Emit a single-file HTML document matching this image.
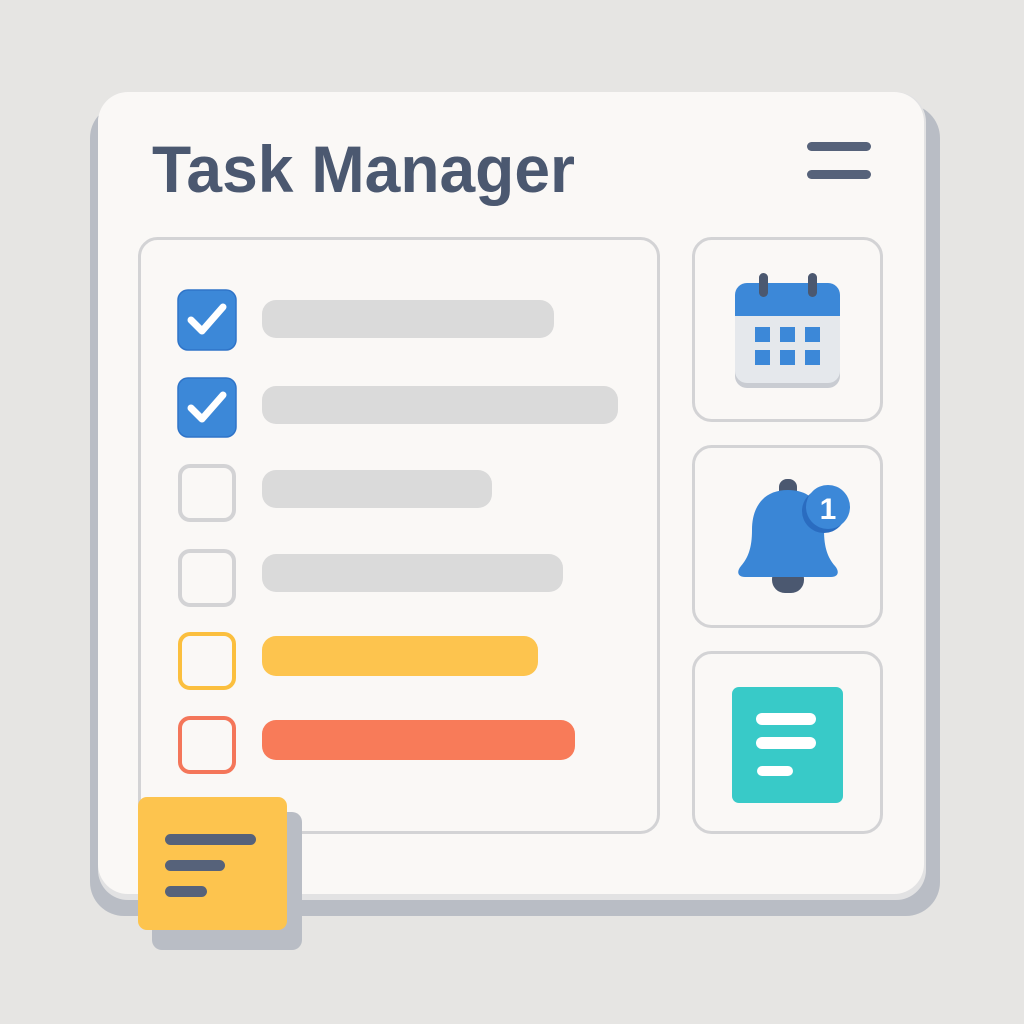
<!DOCTYPE html>
<html><head><meta charset="utf-8"><style>html,body{margin:0;padding:0;background:#e6e5e3}svg{display:block}</style></head>
<body>
<svg width="1024" height="1024" viewBox="0 0 1024 1024" xmlns="http://www.w3.org/2000/svg">
<rect width="1024" height="1024" fill="#e6e5e3"/>
<rect x="90" y="104" width="850" height="812" rx="34" fill="#b9bdc5"/>
<rect x="98" y="92" width="828" height="808" rx="30" fill="#e2e2e3"/>
<rect x="98" y="92" width="826" height="802" rx="30" fill="#faf8f6"/>
<text x="152" y="192" font-family="Liberation Sans, sans-serif" font-weight="bold" font-size="66" fill="#4b5870" textLength="423" lengthAdjust="spacingAndGlyphs">Task Manager</text>
<rect x="807" y="142" width="64" height="9" rx="4.5" fill="#56627a"/>
<rect x="807" y="170" width="64" height="9" rx="4.5" fill="#56627a"/>
<rect x="139.5" y="238.5" width="519" height="594" rx="18" fill="#faf8f6" stroke="#d3d3d5" stroke-width="3"/>
<rect x="178" y="290" width="58" height="60" rx="10" fill="#3c88d8" stroke="#2f74c8" stroke-width="1.5"/>
<path d="M191 320 L202 331 L223 307" fill="none" stroke="#fff" stroke-width="7" stroke-linecap="round" stroke-linejoin="round"/>
<rect x="262" y="300" width="292" height="38" rx="14" fill="#dadada"/>
<rect x="178" y="378" width="58" height="59" rx="10" fill="#3c88d8" stroke="#2f74c8" stroke-width="1.5"/>
<path d="M191 408 L202 419 L223 395" fill="none" stroke="#fff" stroke-width="7" stroke-linecap="round" stroke-linejoin="round"/>
<rect x="262" y="386" width="356" height="38" rx="14" fill="#dadada"/>
<rect x="180" y="466" width="54" height="54" rx="10" fill="none" stroke="#d3d3d5" stroke-width="4"/>
<rect x="262" y="470" width="230" height="38" rx="14" fill="#dadada"/>
<rect x="180" y="551" width="54" height="54" rx="10" fill="none" stroke="#d3d3d5" stroke-width="4"/>
<rect x="262" y="554" width="301" height="38" rx="14" fill="#dadada"/>
<rect x="180" y="634" width="54" height="54" rx="10" fill="none" stroke="#fbbf3e" stroke-width="4"/>
<rect x="262" y="636" width="276" height="40" rx="14" fill="#fdc44e"/>
<rect x="180" y="718" width="54" height="54" rx="10" fill="none" stroke="#f4765a" stroke-width="4"/>
<rect x="262" y="720" width="313" height="40" rx="14" fill="#f87b59"/>
<rect x="693.5" y="238.5" width="188" height="182" rx="18" fill="#faf8f6" stroke="#d3d3d5" stroke-width="3"/>
<rect x="693.5" y="446.5" width="188" height="180" rx="18" fill="#faf8f6" stroke="#d3d3d5" stroke-width="3"/>
<rect x="693.5" y="652.5" width="188" height="180" rx="18" fill="#faf8f6" stroke="#d3d3d5" stroke-width="3"/>
<rect x="735" y="288" width="105" height="100" rx="12" fill="#c9ccd2"/>
<rect x="735" y="283" width="105" height="100" rx="12" fill="#e5e8ec"/>
<path d="M747 283 H828 A12 12 0 0 1 840 295 V316 H735 V295 A12 12 0 0 1 747 283 Z" fill="#3c88d8"/>
<rect x="759" y="273" width="9" height="24" rx="4.5" fill="#4b5870"/>
<rect x="808" y="273" width="9" height="24" rx="4.5" fill="#4b5870"/>
<g fill="#3c88d8">
<rect x="755" y="327" width="15" height="15"/><rect x="780" y="327" width="15" height="15"/><rect x="805" y="327" width="15" height="15"/>
<rect x="755" y="350" width="15" height="15"/><rect x="780" y="350" width="15" height="15"/><rect x="805" y="350" width="15" height="15"/>
</g>
<rect x="779" y="479" width="18" height="20" rx="8" fill="#4b5870"/>
<rect x="772" y="566" width="32" height="27" rx="13" fill="#4b5870"/>
<path d="M788 490 C765 490 752 505 752 530 C752 548 748 558 741 566 C736 572 738 577 745 577 L831 577 C838 577 840 572 835 566 C828 558 824 548 824 530 C824 505 811 490 788 490 Z" fill="#3a86d6"/>
<circle cx="824" cy="511" r="22" fill="#2a6cc0"/>
<circle cx="828" cy="507" r="22" fill="#3c88d8"/>
<text x="828" y="519" text-anchor="middle" font-family="Liberation Sans, sans-serif" font-weight="bold" font-size="30" fill="#fff">1</text>
<rect x="732" y="687" width="111" height="116" rx="7" fill="#38cac8"/>
<rect x="756" y="713" width="60" height="12" rx="6" fill="#fff"/>
<rect x="756" y="737" width="60" height="12" rx="6" fill="#fff"/>
<rect x="757" y="766" width="36" height="10" rx="5" fill="#fff"/>
<rect x="152" y="812" width="150" height="138" rx="10" fill="#b9bdc5"/>
<rect x="138" y="797" width="149" height="133" rx="9" fill="#fdc44e"/>
<rect x="165" y="834" width="91" height="11" rx="5.5" fill="#56627a"/>
<rect x="165" y="860" width="60" height="11" rx="5.5" fill="#56627a"/>
<rect x="165" y="886" width="42" height="11" rx="5.5" fill="#56627a"/>
</svg>
</body></html>
